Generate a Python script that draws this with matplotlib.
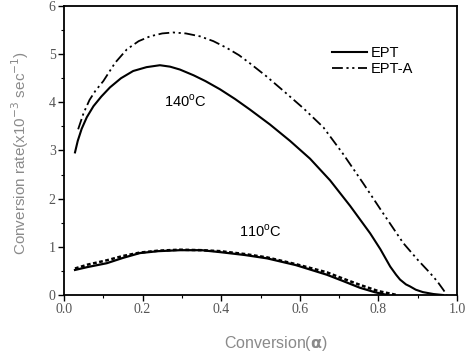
import numpy as np
import matplotlib
matplotlib.use('Agg')
import matplotlib.pyplot as plt
from matplotlib.ticker import MultipleLocator

# 140 C curves
ept140_x = [0.028, 0.035, 0.045, 0.058, 0.075, 0.095, 0.117, 0.145, 0.176, 0.21, 0.244,
            0.27, 0.295, 0.33, 0.36, 0.397, 0.435, 0.473, 0.524, 0.575, 0.626, 0.677,
            0.728, 0.779, 0.805, 0.830, 0.845, 0.855, 0.870, 0.880, 0.895, 0.913,
            0.94, 0.964]
ept140_y = [2.96, 3.20, 3.45, 3.69, 3.92, 4.12, 4.31, 4.50, 4.65, 4.73, 4.77,
            4.74, 4.68, 4.56, 4.44, 4.27, 4.07, 3.85, 3.54, 3.20, 2.83, 2.38,
            1.85, 1.28, 0.95, 0.59, 0.42, 0.32, 0.22, 0.18, 0.11, 0.06,
            0.02, 0.0]
epta140_x = [0.036, 0.05, 0.065, 0.08, 0.100, 0.13, 0.160, 0.19, 0.219, 0.25, 0.278,
             0.31, 0.346, 0.38, 0.414, 0.445, 0.473, 0.515, 0.558, 0.61, 0.660,
             0.71, 0.762, 0.81, 0.863, 0.90, 0.931, 0.950, 0.965, 0.974]
epta140_y = [3.44, 3.78, 4.05, 4.24, 4.44, 4.82, 5.10, 5.27, 5.37, 5.43, 5.45,
             5.43, 5.37, 5.27, 5.13, 4.98, 4.81, 4.54, 4.24, 3.87, 3.48,
             2.93, 2.31, 1.72, 1.08, 0.73, 0.46, 0.28, 0.11, 0.0]

# 110 C curves
ept110_x = [0.028, 0.06, 0.109, 0.15, 0.193, 0.24, 0.295, 0.35, 0.397, 0.46, 0.517,
            0.59, 0.669, 0.71, 0.753, 0.79, 0.822]
ept110_y = [0.52, 0.58, 0.66, 0.77, 0.87, 0.91, 0.93, 0.93, 0.89, 0.83, 0.76,
            0.62, 0.42, 0.29, 0.15, 0.06, 0.0]
epta110_x = [0.028, 0.06, 0.109, 0.15, 0.193, 0.24, 0.295, 0.35, 0.397, 0.46, 0.517,
             0.59, 0.669, 0.71, 0.753, 0.80, 0.847]
epta110_y = [0.55, 0.63, 0.72, 0.81, 0.88, 0.92, 0.94, 0.93, 0.91, 0.85, 0.78,
             0.64, 0.47, 0.34, 0.21, 0.08, 0.0]

dashdot = (0, (6, 2, 1.2, 2, 1.2, 2))

fig = plt.figure(figsize=(4.73, 3.6), dpi=100)
ax = fig.add_axes([0.1353, 0.1806, 0.8309, 0.8028])

ax.plot(ept140_x, ept140_y, color='black', lw=1.5, label='EPT')
ax.plot(epta140_x, epta140_y, color='black', lw=1.3, linestyle=dashdot, label='EPT-A')
ax.plot(ept110_x, ept110_y, color='black', lw=1.6)
ax.plot(epta110_x, epta110_y, color='black', lw=1.8, linestyle=(0, (1.5, 1)))

ax.set_xlim(0, 1.0)
ax.set_ylim(0, 6)
ax.xaxis.set_minor_locator(MultipleLocator(0.1))
ax.yaxis.set_minor_locator(MultipleLocator(0.5))
ax.set_xticks([0, 0.2, 0.4, 0.6, 0.8, 1.0])
ax.set_xticklabels(['0.0', '0.2', '0.4', '0.6', '0.8', '1.0'])
ax.set_yticks([0, 1, 2, 3, 4, 5, 6])
ax.set_yticklabels(['0', '1', '2', '3', '4', '5', '6'])
ax.tick_params(which='major', direction='out', length=4, width=1, pad=2,
               labelsize=10, labelcolor='#555555')
ax.tick_params(which='minor', direction='out', length=2.5, width=0.8)
for lab in ax.get_xticklabels() + ax.get_yticklabels():
    lab.set_family('Liberation Serif')
for s in ax.spines.values():
    s.set_linewidth(1.3)

ax.set_ylabel('Conversion rate(x10$^{-3}$ sec$^{-1}$)', fontsize=11,
              color='#8a8a8a', family='Liberation Sans')
ax.yaxis.set_label_coords(-0.085, 0.49)
ax.set_xlabel('Conversion($\\mathbf{\\alpha}$)', fontsize=11.5,
              color='#8a8a8a', family='Liberation Sans')
ax.xaxis.set_label_coords(0.54, -0.135)

ax.text(0.31, 0.67, '140$^{\\mathregular{o}}$C', transform=ax.transAxes,
        fontsize=10.5, ha='center', va='center', family='Liberation Sans')
ax.text(0.50, 0.22, '110$^{\\mathregular{o}}$C', transform=ax.transAxes,
        fontsize=10.5, ha='center', va='center', family='Liberation Sans')

leg = ax.legend(loc='upper left', bbox_to_anchor=(0.682, 0.86), frameon=False,
                borderaxespad=0, borderpad=0,
                handlelength=2.4, handletextpad=0.25, labelspacing=0.1,
                prop={'family': 'Liberation Sans', 'size': 10.5})

fig.savefig('out.png', dpi=100)
